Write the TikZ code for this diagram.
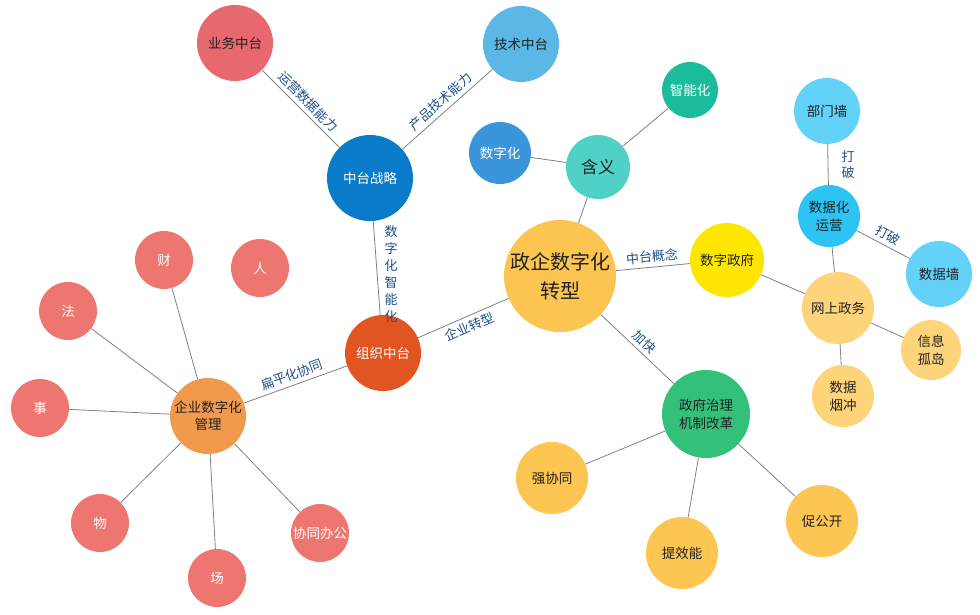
\documentclass[tikz,border=0pt]{standalone}
\usepackage{fontspec}
\setmainfont{Noto Sans CJK SC}
\definecolor{txtdark}{RGB}{34,34,34}
\definecolor{labblue}{RGB}{30,78,140}
\definecolor{edgegray}{RGB}{128,128,128}
\definecolor{cYW}{RGB}{232,104,112}
\definecolor{cJS}{RGB}{91,184,230}
\definecolor{cZT}{RGB}{10,123,200}
\definecolor{cSZ}{RGB}{58,149,218}
\definecolor{cHY}{RGB}{79,209,197}
\definecolor{cZN}{RGB}{26,188,156}
\definecolor{cLB}{RGB}{98,210,249}
\definecolor{cSY}{RGB}{45,196,243}
\definecolor{cYL}{RGB}{255,230,0}
\definecolor{cLO}{RGB}{253,212,122}
\definecolor{cMAIN}{RGB}{252,196,81}
\definecolor{cGR}{RGB}{51,192,120}
\definecolor{cOR}{RGB}{253,197,82}
\definecolor{cZZ}{RGB}{224,85,34}
\definecolor{cQY}{RGB}{241,154,78}
\definecolor{cRD}{RGB}{237,119,112}
\begin{document}
\begin{tikzpicture}[x=1pt,y=-1pt,
  bub/.style={circle, inner sep=0pt, minimum size=#1, align=center,
    font=\fontsize{13.5}{18}\selectfont, text=txtdark},
  wt/.style={text=white},
  link/.style={draw=edgegray, line width=0.8pt},
  lab/.style={font=\fontsize{13}{15}\selectfont, text=labblue, inner sep=1pt}]
\useasboundingbox (0,0) rectangle (980,614);
% nodes
\node[bub=76, fill=cYW] (yw) at (235,43) {业务中台};
\node[bub=76, fill=cJS] (js) at (521,44) {技术中台};
\node[bub=86, fill=cZT, wt] (zt) at (370,178) {中台战略};
\node[bub=62, fill=cSZ, wt] (szh) at (500,153) {数字化};
\node[bub=64, fill=cHY, font=\fontsize{17}{20}\selectfont] (hy) at (598,167) {含义};
\node[bub=56, fill=cZN, wt] (zn) at (690,90) {智能化};
\node[bub=66, fill=cLB] (bmq) at (827,111) {部门墙};
\node[bub=62, fill=cSY] (sjy) at (829,216) {数据化\\运营};
\node[bub=66, fill=cLB] (sjq) at (939,274) {数据墙};
\node[bub=74, fill=cYL] (szf) at (727,260) {数字政府};
\node[bub=72, fill=cLO] (wszw) at (838,308) {网上政务};
\node[bub=60, fill=cLO] (xxgd) at (931,350) {信息\\孤岛};
\node[bub=62, fill=cLO] (sjyc) at (843,396) {数据\\烟冲};
\node[bub=112, fill=cMAIN, font=\fontsize{20}{29}\selectfont] (main) at (560,276) {政企数字化\\转型};
\node[bub=76, fill=cZZ, wt] (zz) at (383,353) {组织中台};
\node[bub=88, fill=cGR] (zf) at (706,414) {政府治理\\机制改革};
\node[bub=72, fill=cOR] (qxt) at (552,478) {强协同};
\node[bub=72, fill=cOR] (txn) at (682,553) {提效能};
\node[bub=72, fill=cOR] (cgk) at (822,521) {促公开};
\node[bub=76, fill=cQY, font=\fontsize{13.5}{17}\selectfont] (qy) at (208,416) {企业数字化\\管理};
\node[bub=58, fill=cRD, wt] (cai) at (164,260) {财};
\node[bub=58, fill=cRD, wt] (ren) at (260,268) {人};
\node[bub=58, fill=cRD, wt] (fa) at (68,311) {法};
\node[bub=58, fill=cRD, wt] (shi) at (40,408) {事};
\node[bub=58, fill=cRD, wt] (wu) at (100,523) {物};
\node[bub=58, fill=cRD, wt] (chang) at (217,578) {场};
\node[bub=58, fill=cRD, wt] (xtbg) at (320,533) {协同办公};
% connectors
\draw[link] (yw) -- (zt) node[midway, sloped, above=3pt, lab] {运营数据能力};
\draw[link] (zt) -- (js) node[midway, sloped, above=3pt, lab] {产品技术能力};
\draw[link] (zt) -- (zz);
\node[lab, align=center, font=\fontsize{13}{17}\selectfont] (lszh) at (391,274) {数\\字\\化\\智\\能\\化};
\draw[link] (zz) -- (main) node[pos=0.52, sloped, below=3pt, lab] {企业转型};
\draw[link] (main) -- (hy);
\draw[link] (hy) -- (szh);
\draw[link] (hy) -- (zn);
\draw[link] (main) -- (szf) node[midway, sloped, above=3pt, lab] {中台概念};
\draw[link] (main) -- (zf) node[pos=0.5, sloped, above=3pt, lab] {加快};
\draw[link] (szf) -- (wszw);
\draw[link] (wszw) -- (sjy);
\draw[link] (wszw) -- (xxgd);
\draw[link] (wszw) -- (sjyc);
\draw[link] (sjy) -- (bmq);
\node[lab, align=center, font=\fontsize{13}{16}\selectfont] (ldp1) at (848,165) {打\\破};
\draw[link] (sjy) -- (sjq) node[midway, sloped, above=3pt, lab] {打破};
\draw[link] (zf) -- (qxt);
\draw[link] (zf) -- (txn);
\draw[link] (zf) -- (cgk);
\draw[link] (qy) -- (zz) node[midway, sloped, above=3pt, lab] {扁平化协同};
\draw[link] (qy) -- (cai);
\draw[link] (qy) -- (fa);
\draw[link] (qy) -- (shi);
\draw[link] (qy) -- (wu);
\draw[link] (qy) -- (chang);
\draw[link] (qy) -- (xtbg);
\end{tikzpicture}
\end{document}
